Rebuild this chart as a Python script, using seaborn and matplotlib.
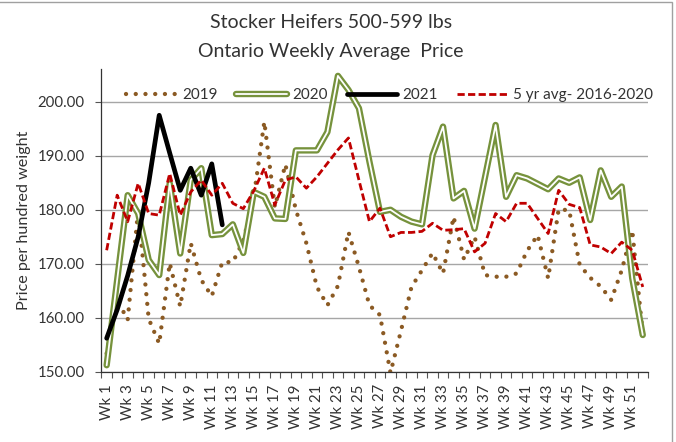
import numpy as np
import matplotlib
matplotlib.use("Agg")
import matplotlib.pyplot as plt
import matplotlib.patheffects as pe
from matplotlib.patches import Rectangle
import seaborn as sns

# weekly prices ($ per hundred weight)
weeks = [f"Wk {i}" for i in range(1, 53)]

y2019 = [153.4, 163.3, 159.6, 180.0, 159.8, 155.2, 170.1, 162.1, 173.8, 167.0,
         164.0, 170.3, 170.3, 174.2, 182.4, 196.3, 180.5, 188.4, 180.0, 173.8,
         165.7, 162.3, 165.9, 175.9, 169.4, 162.3, 160.5, 149.8, 157.6, 165.7,
         168.8, 172.0, 168.2, 178.7, 170.8, 175.0, 167.9, 167.6, 167.6, 168.2,
         172.4, 175.3, 167.3, 180.1, 179.9, 169.8, 167.4, 165.8, 163.3, 168.8,
         176.2, 157.0]

y2020 = [151.2, 167.0, 182.7, 179.3, 170.7, 167.9, 184.9, 171.9, 185.5, 187.7,
         175.3, 175.5, 177.3, 172.0, 183.3, 182.4, 178.4, 178.3, 191.0, 191.0,
         191.0, 194.4, 204.8, 202.2, 198.8, 188.9, 179.6, 180.0, 178.7, 177.8,
         177.3, 190.1, 195.4, 182.1, 183.5, 176.5, 186.1, 195.7, 182.4, 186.4,
         185.8, 184.8, 183.8, 185.8, 185.0, 186.0, 178.1, 187.3, 182.4, 184.3,
         167.3, 156.8]

y2021 = [156.2, 161.5, 167.8, 175.0, 185.0, 197.5, 190.5, 183.6, 187.7, 182.7,
         188.5, 177.2]

avg5 = [172.5, 182.7, 177.8, 184.9, 179.3, 179.0, 186.7, 179.0, 183.3, 185.5,
        182.7, 184.9, 181.2, 180.2, 183.5, 187.7, 180.9, 185.5, 186.1, 184.0,
        186.1, 188.6, 191.1, 193.3, 185.5, 177.8, 180.3, 175.0, 175.8, 175.8,
        176.0, 177.5, 176.2, 176.3, 176.5, 172.2, 173.8, 179.3, 177.8, 181.2,
        181.2, 178.4, 175.6, 183.6, 181.0, 180.4, 173.5, 173.1, 171.9, 174.0,
        172.5, 165.7]

brown = "#8B5A23"
green = "#76923C"
red = "#C00000"
txt = "#333333"

sns.set_theme(style="white")
plt.rcParams['font.family'] = ['Lato', 'DejaVu Sans']

fig = plt.figure(figsize=(6.76, 4.42), dpi=100)
ax = fig.add_axes([0.150, 0.159, 0.8086, 0.684])

sns.lineplot(x=np.arange(len(y2019)), y=y2019, ax=ax, color=brown, lw=3.1,
             linestyle=(0, (0.01, 2.25)), dash_capstyle="round", label="2019")
sns.lineplot(x=np.arange(len(y2020)), y=y2020, ax=ax, color="white", lw=1.3,
             path_effects=[pe.Stroke(linewidth=4.6, foreground=green), pe.Normal()],
             label="2020")
sns.lineplot(x=np.arange(len(y2021)), y=y2021, ax=ax, color="black", lw=3.4,
             label="2021")
sns.lineplot(x=np.arange(len(avg5)), y=avg5, ax=ax, color=red, lw=2.0,
             linestyle=(0, (2.6, 1.2)), label="5 yr avg- 2016-2020")

# axes
ax.set_xlim(-0.5, 51.5)
ax.set_ylim(150, 206)
ax.set_yticks(np.arange(150, 201, 10))
ax.set_yticklabels([f"{v:.2f}" for v in np.arange(150, 201, 10)],
                   fontsize=10.8, color=txt)
ax.set_xticks(np.arange(0, 52, 2))
ax.set_xticklabels(weeks[::2], rotation=90, fontsize=10.8, color=txt)
ax.set_xticks(np.arange(-0.5, 52, 1), minor=True)
ax.tick_params(axis="x", which="major", length=0, pad=9)
ax.tick_params(axis="x", which="minor", length=4, width=0.8, color="#555555",
               direction="out", bottom=True)
ax.tick_params(axis="y", length=4, width=0.8, color="#555555",
               direction="out", left=True, pad=8)

ax.grid(axis="y", color="#A6A6A6", lw=1.0)
ax.set_axisbelow(True)
for s in ["top", "right"]:
    ax.spines[s].set_visible(False)
for s in ["left", "bottom"]:
    ax.spines[s].set_color("#333333")
    ax.spines[s].set_linewidth(0.9)

ax.set_xlabel("")
ax.set_ylabel("Price per hundred weight", fontsize=11.6, color=txt, labelpad=5)

ax.legend(loc="center", bbox_to_anchor=(0.527, 0.915), ncol=4, frameon=False,
          fontsize=11, handlelength=3.3, handletextpad=0.35, columnspacing=1.25,
          labelcolor=txt)

fig.text(0.49, 0.95, "Stocker Heifers 500-599 lbs", ha="center", va="center",
         fontsize=14, color=txt)
fig.text(0.49, 0.883, "Ontario Weekly Average  Price", ha="center", va="center",
         fontsize=14, color=txt)

# chart border
fig.add_artist(Rectangle((-0.01, -0.01), 1.004, 1.0055, transform=fig.transFigure,
                         fill=False, edgecolor="#A0A0A0", lw=1.0))

fig.savefig("out.png", dpi=100)
